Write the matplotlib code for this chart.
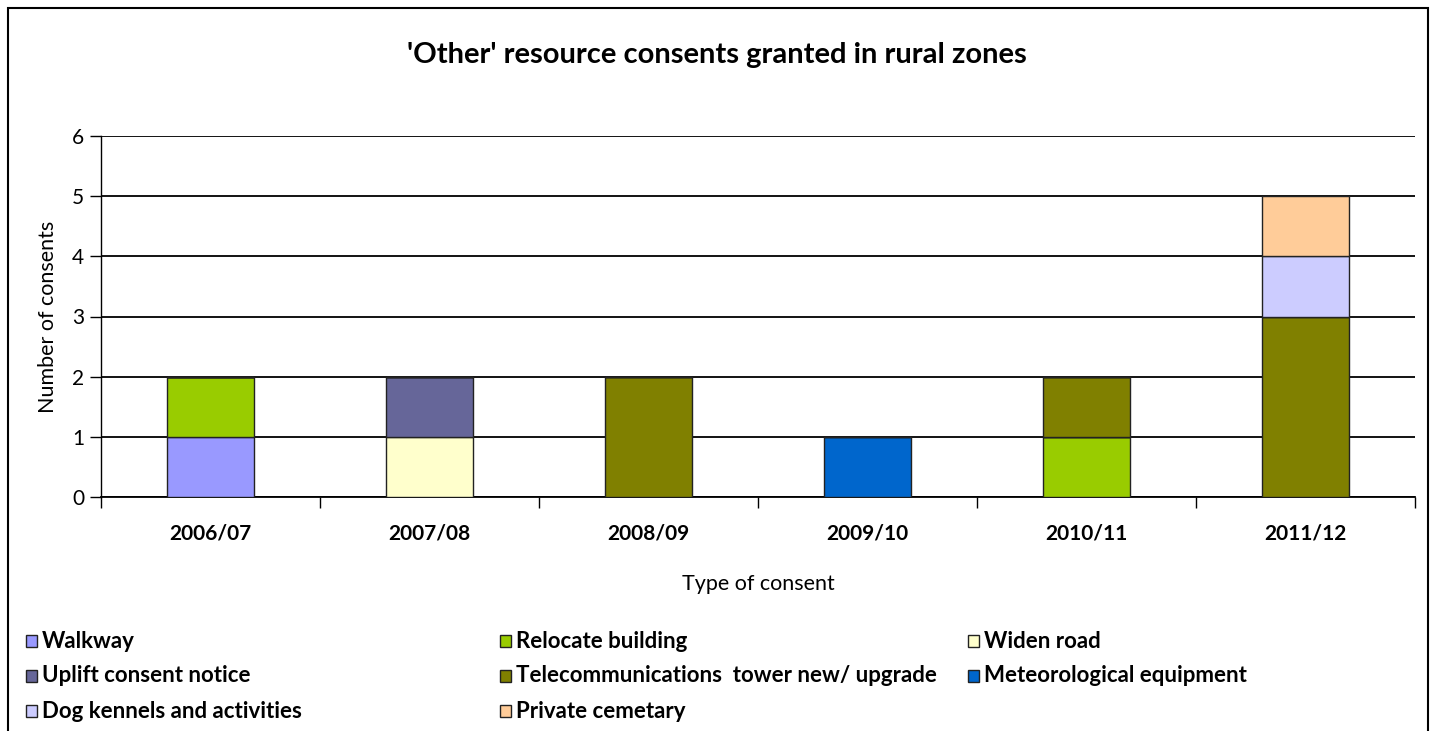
import matplotlib
matplotlib.use('Agg')
import matplotlib.pyplot as plt
import numpy as np
from matplotlib.patches import Rectangle

plt.rcParams['font.family'] = ['Lato', 'DejaVu Sans']

# consents per year, one list per consent type
years = ['2006/07', '2007/08', '2008/09', '2009/10', '2010/11', '2011/12']
walkway = [1, 0, 0, 0, 0, 0]
relocate_building = [1, 0, 0, 0, 1, 0]
widen_road = [0, 1, 0, 0, 0, 0]
uplift_notice = [0, 1, 0, 0, 0, 0]
telecom_tower = [0, 0, 2, 0, 1, 3]
met_equipment = [0, 0, 0, 1, 0, 0]
dog_kennels = [0, 0, 0, 0, 0, 1]
private_cemetary = [0, 0, 0, 0, 0, 1]

series_names = ['Walkway', 'Relocate building', 'Widen road', 'Uplift consent notice',
                'Telecommunications  tower new/ upgrade', 'Meteorological equipment',
                'Dog kennels and activities', 'Private cemetary']
series_values = [walkway, relocate_building, widen_road, uplift_notice,
                 telecom_tower, met_equipment, dog_kennels, private_cemetary]
colors = ['#9999FF', '#99CC00', '#FFFFCC', '#666699',
          '#808000', '#0066CC', '#CCCCFF', '#FFCC99']

W, H = 1434, 731
fig = plt.figure(figsize=(W / 100, H / 100), dpi=100)

# outer chart border (bottom edge runs off the image)
fig.add_artist(Rectangle((8 / W, -0.05), 1420 / W, (H - 8) / H + 0.05,
                         transform=fig.transFigure, fill=False,
                         edgecolor='black', linewidth=1.5))

ax = fig.add_axes([101 / W, (H - 497) / H, (1415 - 101) / W, (497 - 136) / H])

x = np.arange(len(years))
bottom = np.zeros(len(years))
for name, vals, c in zip(series_names, series_values, colors):
    vals = np.array(vals, dtype=float)
    ax.bar(x, vals, width=0.4, bottom=bottom, color=c, edgecolor='#222222',
           linewidth=1.0, zorder=3)
    bottom += vals

ax.set_xlim(-0.5, len(years) - 0.5)
ax.set_ylim(0, 6)
ax.set_yticks(range(7))
ax.yaxis.grid(True, color='black', linewidth=1.3, zorder=0)
ax.set_axisbelow(True)
for s in ['top', 'right']:
    ax.spines[s].set_visible(False)
ax.spines['left'].set_linewidth(1.0)
ax.spines['bottom'].set_linewidth(1.3)

ax.set_xticks(x)
ax.set_xticklabels(years, fontsize=15, fontweight='bold')
ax.tick_params(axis='x', length=0, pad=19)
ax.set_xticks(np.arange(len(years) + 1) - 0.5, minor=True)
ax.tick_params(axis='x', which='minor', length=8, width=1.0)
ax.tick_params(axis='y', labelsize=15, length=8, width=1.0, pad=4)

ax.set_xlabel('Type of consent', fontsize=15.5, labelpad=22)
ax.set_ylabel('Number of consents', fontsize=15.5, labelpad=10)

fig.text(0.5, (H - 55) / H, "'Other' resource consents granted in rural zones",
         ha='center', va='center', fontsize=21, fontweight='bold')

# legend laid out in three fixed columns
col_x = [26, 500, 968]
row_y = [641, 676, 711]
for i, (name, c) in enumerate(zip(series_names, colors)):
    r, k = divmod(i, 3)
    if i == 5:
        r, k = 1, 2
    elif i > 5:
        r, k = 2, i - 6
    lx, ly = col_x[k], row_y[r]
    fig.add_artist(Rectangle((lx / W, (H - ly - 6) / H), 11 / W, 12 / H,
                             transform=fig.transFigure, facecolor=c,
                             edgecolor='#222222', linewidth=1.0))
    fig.text((lx + 16) / W, (H - ly) / H, name, ha='left', va='center',
             fontsize=16, fontweight='bold')

fig.savefig('out.png', dpi=100)
